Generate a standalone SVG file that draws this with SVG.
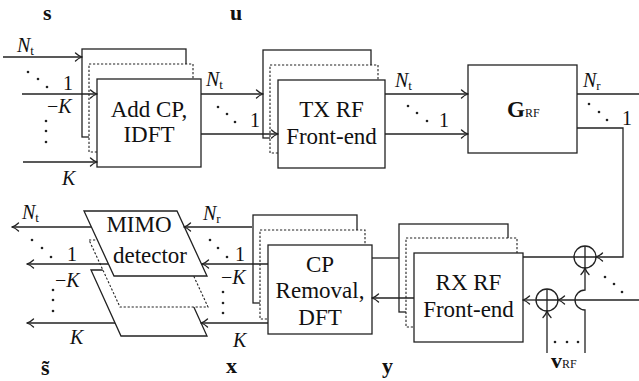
<svg xmlns="http://www.w3.org/2000/svg" width="639" height="381" viewBox="0 0 639 381">
<style>
.box{fill:#fff;stroke:#222;stroke-width:1.3}
.dot{fill:#fff;stroke:#222;stroke-width:1.1;stroke-dasharray:2.2 1.8}
.ln{fill:none;stroke:#222;stroke-width:1.3}
.arr{fill:none;stroke:#222;stroke-width:1.3;marker-end:url(#ah)}
.pt{fill:#222}
</style>
<defs>
<marker id="ah" viewBox="-8 -5 9 10" refX="0" refY="0" markerWidth="9" markerHeight="10" markerUnits="userSpaceOnUse" orient="auto">
<path d="M-6.5,-4 C-4,-1.5 -1.5,-0.5 0,0 C-1.5,0.5 -4,1.5 -6.5,4" fill="none" stroke="#222" stroke-width="1.3" stroke-linecap="round"/>
</marker>
</defs>

<g id="addcp">
<rect class="box" x="82" y="49" width="104" height="88"/>
<rect class="dot" x="89" y="64" width="104" height="88"/>
<rect class="box" x="97" y="79" width="104" height="88"/>
<g font-family="'Liberation Serif', 'Times New Roman', Tinos, 'DejaVu Serif', serif" font-size="23" fill="#111" text-anchor="middle">
<text x="149" y="117">Add CP,</text>
<text x="149" y="142">IDFT</text>
</g>
</g>

<g id="txrf">
<rect class="box" x="263" y="50" width="108" height="88"/>
<rect class="dot" x="270" y="65" width="108" height="88"/>
<rect class="box" x="278" y="80" width="107" height="88"/>
<g font-family="'Liberation Serif', 'Times New Roman', Tinos, 'DejaVu Serif', serif" font-size="23" fill="#111" text-anchor="middle">
<text x="331.5" y="117">TX RF</text>
<text x="331.5" y="144">Front-end</text>
</g>
</g>

<g id="grf">
<rect class="box" x="468" y="65" width="109" height="88"/>
<text x="507" y="117" font-family="'Liberation Serif', 'Times New Roman', Tinos, 'DejaVu Serif', serif" fill="#111"><tspan font-size="23" font-weight="bold">G</tspan><tspan font-size="12">RF</tspan></text>
</g>

<g id="rxrf">
<rect class="box" x="399" y="224" width="109" height="88"/>
<rect class="dot" x="406" y="238" width="111" height="89"/>
<rect class="box" x="414" y="253" width="109" height="89"/>
<g font-family="'Liberation Serif', 'Times New Roman', Tinos, 'DejaVu Serif', serif" font-size="23" fill="#111" text-anchor="middle">
<text x="468.5" y="290">RX RF</text>
<text x="468.5" y="317">Front-end</text>
</g>
</g>

<g id="cprem">
<rect class="box" x="253" y="215" width="104" height="88"/>
<rect class="dot" x="260" y="230" width="105" height="89"/>
<rect class="box" x="268" y="245" width="104" height="89"/>
<g font-family="'Liberation Serif', 'Times New Roman', Tinos, 'DejaVu Serif', serif" font-size="23" fill="#111" text-anchor="middle">
<text x="320" y="272">CP</text>
<text x="320" y="298">Removal,</text>
<text x="320" y="325">DFT</text>
</g>
</g>

<g id="mimo">
<polygon class="box" points="91,270 177,270 207,336 121,336"/>
<polygon class="dot" points="89,240 177,240 208,307 120,307"/>
<polygon class="box" points="84,211 177,211 207,276 114,276"/>
<g font-family="'Liberation Serif', 'Times New Roman', Tinos, 'DejaVu Serif', serif" font-size="23" fill="#111" text-anchor="middle">
<text x="139" y="232">MIMO</text>
<text x="150" y="263">detector</text>
</g>
</g>

<g id="adder1">
<circle class="ln" cx="585" cy="257" r="11"/>
<path class="ln" d="M574,257H596M585,246V268"/>
</g>
<g id="adder2">
<circle class="ln" cx="547" cy="300" r="11"/>
<path class="ln" d="M536,300H558M547,289V311"/>
</g>

<g id="connectors">
<path class="arr" d="M3,57H82"/>
<path class="arr" d="M22,94H97"/>
<path class="arr" d="M23,162H97"/>
<path class="arr" d="M201,94H263"/>
<path class="arr" d="M201,134H278"/>
<path class="arr" d="M385,94H468"/>
<path class="arr" d="M385,134H468"/>
<path class="ln" d="M577,94H639"/>
<path class="arr" d="M577,128H623V257H596"/>
<path class="ln" d="M574,257H523"/>
<path class="arr" d="M585,353V310A10,10 0 0 1 585,290V268"/>
<path class="arr" d="M639,300H558"/>
<path class="arr" d="M536,300H523"/>
<path class="arr" d="M547,353V311"/>
<path class="ln" d="M372,258H399"/>
<path class="arr" d="M414,298H372"/>
<path class="arr" d="M252,227H184"/>
<path class="arr" d="M268,264H202"/>
<path class="arr" d="M268,323H201"/>
<path class="arr" d="M91,227H12"/>
<path class="arr" d="M108,264H27"/>
<path class="arr" d="M115,323H27"/>
</g>

<g id="dots">
<circle class="pt" cx="28" cy="72" r="1.3"/><circle class="pt" cx="38" cy="79" r="1.3"/><circle class="pt" cx="47" cy="87" r="1.3"/>
<circle class="pt" cx="46" cy="121" r="1.3"/><circle class="pt" cx="46" cy="131" r="1.3"/><circle class="pt" cx="46" cy="142" r="1.3"/>
<circle class="pt" cx="218" cy="107" r="1.3"/><circle class="pt" cx="227" cy="114" r="1.3"/><circle class="pt" cx="235" cy="122" r="1.3"/>
<circle class="pt" cx="408" cy="106" r="1.3"/><circle class="pt" cx="417" cy="113" r="1.3"/><circle class="pt" cx="427" cy="121" r="1.3"/>
<circle class="pt" cx="589" cy="104" r="1.3"/><circle class="pt" cx="599" cy="112" r="1.3"/><circle class="pt" cx="607" cy="120" r="1.3"/>
<circle class="pt" cx="605" cy="277" r="1.3"/><circle class="pt" cx="614" cy="284" r="1.3"/><circle class="pt" cx="622" cy="292" r="1.3"/>
<circle class="pt" cx="555" cy="342" r="1.3"/><circle class="pt" cx="567" cy="342" r="1.3"/><circle class="pt" cx="578" cy="342" r="1.3"/>
<circle class="pt" cx="210" cy="240" r="1.3"/><circle class="pt" cx="218" cy="248" r="1.3"/><circle class="pt" cx="227" cy="257" r="1.3"/>
<circle class="pt" cx="223" cy="292" r="1.3"/><circle class="pt" cx="223" cy="303" r="1.3"/><circle class="pt" cx="223" cy="313" r="1.3"/>
<circle class="pt" cx="32" cy="240" r="1.3"/><circle class="pt" cx="42" cy="248" r="1.3"/><circle class="pt" cx="51" cy="257" r="1.3"/>
<circle class="pt" cx="53" cy="290" r="1.3"/><circle class="pt" cx="53" cy="300" r="1.3"/><circle class="pt" cx="53" cy="311" r="1.3"/>
</g>

<g id="labels" font-family="'Liberation Serif', 'Times New Roman', Tinos, 'DejaVu Serif', serif" font-size="20" fill="#111">
<text x="17" y="52"><tspan font-style="italic">N</tspan><tspan font-size="13" dy="3">t</tspan></text>
<text x="63" y="90">1</text>
<text x="47" y="113">−<tspan font-style="italic">K</tspan></text>
<text x="62" y="185" font-style="italic">K</text>

<text x="206" y="86"><tspan font-style="italic">N</tspan><tspan font-size="13" dy="3">t</tspan></text>
<text x="250" y="127">1</text>

<text x="395" y="87"><tspan font-style="italic">N</tspan><tspan font-size="13" dy="3">t</tspan></text>
<text x="439" y="127">1</text>

<text x="583" y="87"><tspan font-style="italic">N</tspan><tspan font-size="13" dy="3">r</tspan></text>
<text x="622" y="125">1</text>

<text x="551" y="368"><tspan font-size="22" font-weight="bold">v</tspan><tspan font-size="12">RF</tspan></text>

<text x="203" y="220"><tspan font-style="italic">N</tspan><tspan font-size="13" dy="3">r</tspan></text>
<text x="235" y="261">1</text>
<text x="221" y="284">−<tspan font-style="italic">K</tspan></text>
<text x="233" y="347" font-style="italic">K</text>

<text x="22" y="219"><tspan font-style="italic">N</tspan><tspan font-size="13" dy="3">t</tspan></text>
<text x="67" y="261">1</text>
<text x="55" y="287">−<tspan font-style="italic">K</tspan></text>
<text x="70" y="344" font-style="italic">K</text>

<g font-size="22" font-weight="bold">
<text x="43" y="20">s</text>
<text x="230" y="20">u</text>
<text x="41" y="375">s̃</text>
<text x="226" y="373">x</text>
<text x="382" y="373">y</text>
</g>
</g>
</svg>
